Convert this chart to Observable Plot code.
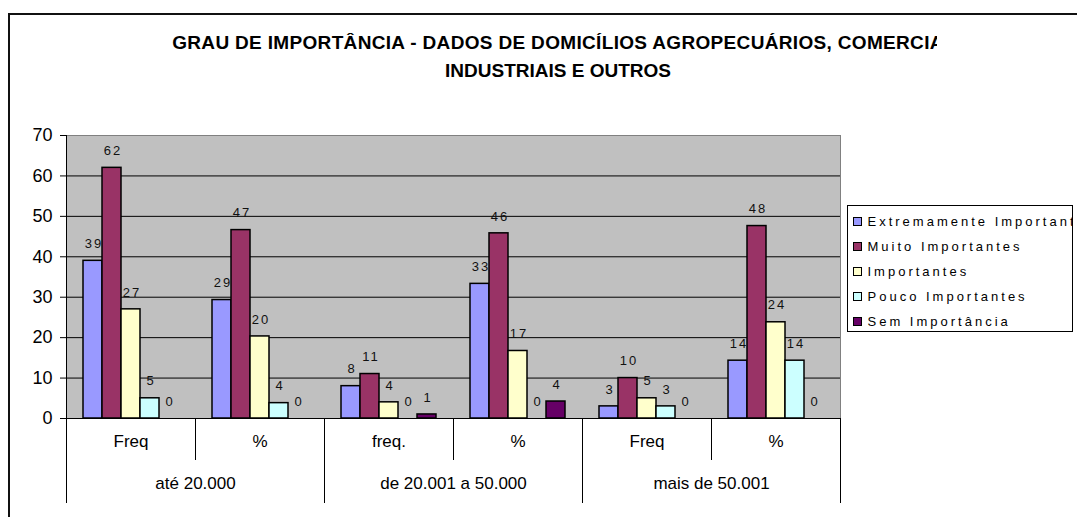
<!DOCTYPE html>
<html>
<head>
<meta charset="utf-8">
<script src="https://cdn.jsdelivr.net/npm/d3@7"></script>
<script src="https://cdn.jsdelivr.net/npm/@observablehq/plot@0.6"></script>
<style>
  body { margin: 0; background: #fff; }
  #wrap { position: relative; width: 1077px; height: 517px; overflow: hidden; background: #fff;
          font-family: "Liberation Sans", Arial, sans-serif; color: #000; }
  #border { position: absolute; left: 8px; top: 13px; width: 1200px; height: 700px;
            border: 2px solid #111; pointer-events: none; z-index: 5; }
  .t { position: absolute; left: 0; width: 1116px; text-align: center; font-weight: bold;
       font-size: 19px; line-height: 19px; white-space: nowrap; }
  #clip1 { position: absolute; left: 0; top: 33px; width: 937px; height: 22px; overflow: hidden; }
  #chart { position: absolute; left: 0; top: 125px; }
  #legend { position: absolute; left: 847px; top: 205px; width: 226px; height: 127px;
            box-sizing: border-box; border: 1px solid #000; background: #fff; overflow: hidden; z-index: 4; }
  .row { position: absolute; left: 0; height: 25px; width: 400px; }
  .sw { position: absolute; left: 5px; top: 8px; width: 7px; height: 7px; border: 1px solid #000; }
  .lt { position: absolute; left: 19.5px; top: 0; line-height: 25px; font-size: 13px;
        letter-spacing: 3px; white-space: nowrap; }
  #chart g[font-size="13"] text { letter-spacing: 2px; }
</style>
</head>
<body>
<div id="wrap">
  <div id="border"></div>
  <div id="clip1"><div class="t" style="top:0;letter-spacing:0.33px">GRAU DE IMPORTÂNCIA - DADOS DE DOMICÍLIOS AGROPECUÁRIOS, COMERCIA</div></div>
  <div class="t" style="top:61px">INDUSTRIAIS E OUTROS</div>
  <div id="chart"></div>
  <div id="legend"></div>
</div>
<script>
// ---- data ----
const series = ["Extremamente Importantes", "Muito Importantes", "Importantes", "Pouco Importantes", "Sem Importância"];
const colors = ["#9999FF", "#993366", "#FFFFCC", "#CCFFFF", "#660066"];
const groups = ["até 20.000", "de 20.001 a 50.000", "mais de 50.001"];
const subLabels = [["Freq", "%"], ["freq.", "%"], ["Freq", "%"]];
const ateFreq  = [39, 62, 27, 5, 0];
const atePct   = [29.3, 46.6, 20.3, 3.8, 0];
const deFreq   = [8, 11, 4, 0, 1];
const dePct    = [33.3, 45.8, 16.7, 0, 4.2];
const maisFreq = [3, 10, 5, 3, 0];
const maisPct  = [14.3, 47.6, 23.8, 14.3, 0];
const yTicks = [0, 10, 20, 30, 40, 50, 60, 70];
const gridTicks = [10, 20, 30, 40, 50, 60];

const values = [ateFreq, atePct, deFreq, dePct, maisFreq, maisPct];
const cats = groups.flatMap((g, gi) => subLabels[gi].map(s => ({key: g + " | " + s, group: g, sub: s})));
const rows = cats.flatMap((c, ci) => series.map((s, si) => ({key: c.key, series: s, value: values[ci][si]})));

// ---- layout ----
const W = 1077, H = 392, ML = 66, MR = 237, MT = 10, MB = 99;
const FW = (W - ML - MR) / cats.length;

const firstOfGroup = cats.filter((c, i) => i % 2 === 0);
const secondOfGroup = cats.filter((c, i) => i % 2 === 1);
const lastCat = [cats[cats.length - 1]];
const firstCat = [cats[0]];

const chart = Plot.plot({
  width: W, height: H,
  marginLeft: ML, marginRight: MR, marginTop: MT, marginBottom: MB,
  style: {background: "transparent", fontFamily: "Liberation Sans, Arial, sans-serif", fontSize: "18px", color: "#000"},
  fx: {domain: cats.map(c => c.key), padding: 0, axis: null, label: null},
  x: {domain: series, paddingInner: 0, paddingOuter: 0.77, axis: null},
  y: {domain: [0, 70]},
  color: {domain: series, range: colors},
  marks: [
    Plot.frame({fill: "#C0C0C0", stroke: "none", shapeRendering: "crispEdges"}),
    Plot.ruleY(gridTicks, {stroke: "#000", strokeWidth: 1}),
    Plot.ruleY([70], {stroke: "#808080", strokeWidth: 1}),
    Plot.ruleX(lastCat, {fx: "key", x: null, y1: () => 70, y2: () => 0, dx: FW / 2, stroke: "#808080"}),
    Plot.barY(rows, {fx: "key", x: "series", y: "value", fill: "series", stroke: "#000", strokeWidth: 1.5}),
    Plot.ruleY([0], {stroke: "#000", strokeWidth: 1}),
    Plot.text(rows, {fx: "key", x: "series", y: "value", text: d => String(Math.round(d.value)),
                     dy: -17, dx: 1, fontSize: 13, fill: "#111"}),
    Plot.axisY(yTicks, {tickSize: 6, tickPadding: 8, fontSize: 18, label: null}),
    // y axis line
    Plot.ruleX(firstCat, {fx: "key", x: null, y1: () => 70, y2: () => 0, dx: -FW / 2, stroke: "#000"}),
    // category separators
    Plot.ruleX(firstOfGroup, {fx: "key", x: null, y1: () => 0, y2: () => 0, insetBottom: -85, dx: -FW / 2, stroke: "#000"}),
    Plot.ruleX(lastCat, {fx: "key", x: null, y1: () => 0, y2: () => 0, insetBottom: -85, dx: FW / 2, stroke: "#000"}),
    Plot.ruleX(secondOfGroup, {fx: "key", x: null, y1: () => 0, y2: () => 0, insetBottom: -42, dx: -FW / 2, stroke: "#000"}),
    // category labels
    Plot.text(cats, {fx: "key", text: "sub", frameAnchor: "bottom", dy: 28, fontSize: 17, fill: "#000"}),
    Plot.text(firstOfGroup, {fx: "key", text: "group", frameAnchor: "bottom-right", textAnchor: "middle",
                             dy: 70, fontSize: 17, fill: "#000"})
  ]
});
document.getElementById("chart").appendChild(chart);

// ---- legend ----
const legend = d3.select("#legend");
series.forEach((s, i) => {
  const row = legend.append("div").attr("class", "row").style("top", (3.3 + i * 24.8) + "px");
  row.append("span").attr("class", "sw").style("background", colors[i]);
  row.append("span").attr("class", "lt").text(s);
});
</script>
</body>
</html>
